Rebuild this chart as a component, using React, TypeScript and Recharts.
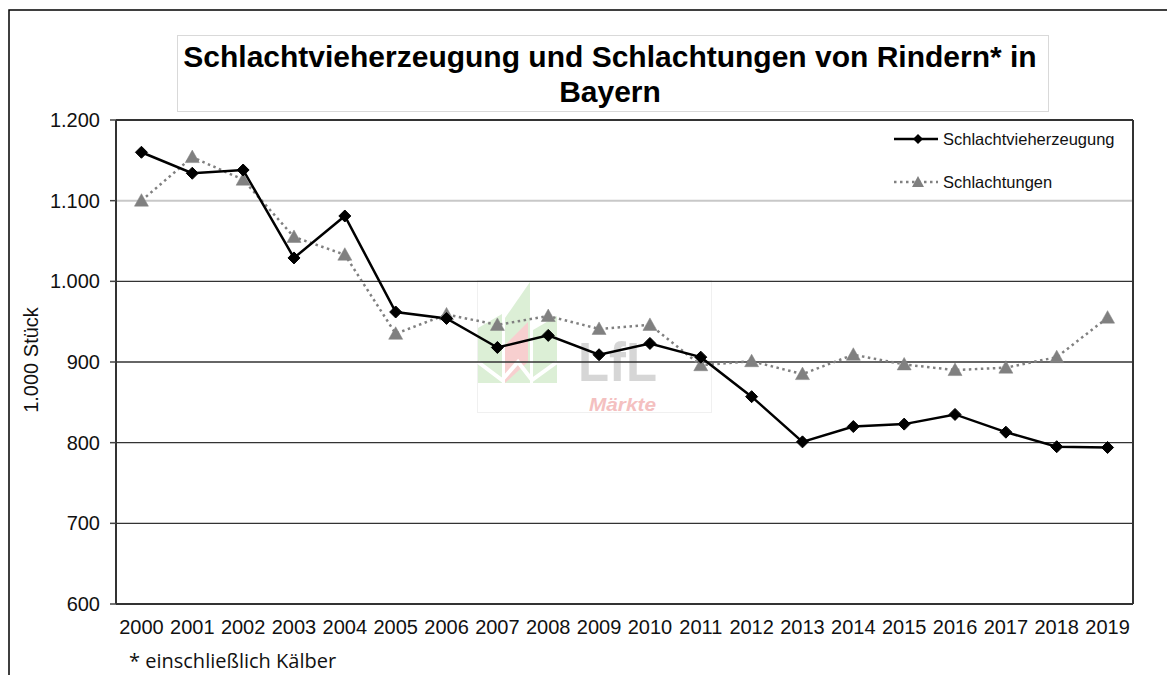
import React from 'react';
import { LineChart, Line, XAxis, YAxis, ReferenceLine, Legend } from 'recharts';

const years = ['2000', '2001', '2002', '2003', '2004', '2005', '2006', '2007', '2008', '2009', '2010', '2011', '2012', '2013', '2014', '2015', '2016', '2017', '2018', '2019'];
const schlachtvieherzeugung = [1160, 1134, 1138, 1029, 1081, 962, 954, 918, 933, 909, 923, 906, 857, 801, 820, 823, 835, 813, 795, 794];
const schlachtungen = [1100, 1154, 1126, 1055, 1033, 935, 959, 946, 957, 941, 946, 896, 901, 885, 909, 897, 890, 893, 906, 955];
const yTicks = [600, 700, 800, 900, 1000, 1100, 1200];
const gridValues = [700, 800, 900, 1000, 1100];
const seriesNames = ['Schlachtvieherzeugung', 'Schlachtungen'];
const titleLines = ['Schlachtvieherzeugung und Schlachtungen von Rindern* in', 'Bayern'];
const yAxisTitle = '1.000 Stück';
const footnote = '* einschließlich Kälber';

const data = years.map((y, i) => ({ x: i, year: y, erz: schlachtvieherzeugung[i], schl: schlachtungen[i] }));
const labelTicks = years.map((_, i) => i);
const edgeTicks = [...years.map((_, i) => i - 0.5), years.length - 0.5];

const FONT = '"Liberation Sans", Arial, sans-serif';

const fmt = (v: number) => (v >= 1000 ? `${Math.floor(v / 1000)}.${String(v % 1000).padStart(3, '0')}` : String(v));

const Diamond = (props: any) => {
  const { cx, cy, index } = props;
  if (cx == null || cy == null) return <g key={`d-${index}`} />;
  const r = 6;
  return <polygon key={`d-${index}`} points={`${cx},${cy - r} ${cx + r},${cy} ${cx},${cy + r} ${cx - r},${cy}`} fill="#000" stroke="#000" strokeWidth={1} />;
};

const Triangle = (props: any) => {
  const { cx, cy, index } = props;
  if (cx == null || cy == null) return <g key={`t-${index}`} />;
  return <polygon key={`t-${index}`} points={`${cx},${cy - 7} ${cx + 7},${cy + 5.5} ${cx - 7},${cy + 5.5}`} fill="#808080" stroke="#808080" strokeWidth={0.5} />;
};

const renderLegend = () => (
  <svg width={270} height={80} style={{ display: 'block' }}>
    <line x1={4} y1={13} x2={48} y2={13} stroke="#000" strokeWidth={2.5} />
    <polygon points="28,8 33,13 28,18 23,13" fill="#000" />
    <text x={53} y={13} dy="0.35em" fontSize={16.5} fontFamily={FONT} fill="#111">{seriesNames[0]}</text>
    <line x1={4} y1={56} x2={48} y2={56} stroke="#808080" strokeWidth={2.5} strokeDasharray="2.5 3.5" />
    <polygon points="28,50 34,61 22,61" fill="#808080" />
    <text x={53} y={56} dy="0.35em" fontSize={16.5} fontFamily={FONT} fill="#111">{seriesNames[1]}</text>
  </svg>
);

export default function App() {
  return (
    <div style={{ position: 'absolute', left: 0, top: 0, width: 1167, height: 675, background: '#fff', overflow: 'hidden' }}>
      <svg width={1167} height={675} style={{ position: 'absolute', left: 0, top: 0 }}>
        <rect x={9} y={10} width={1200} height={700} fill="none" stroke="#000" strokeWidth={1.5} />
        <rect x={177.5} y={35.5} width={871} height={76} fill="#fff" stroke="#d9d9d9" strokeWidth={1} />
        <text x={610} y={67} textAnchor="middle" fontSize={30} fontWeight="bold" fontFamily={FONT} fill="#000">{titleLines[0]}</text>
        <text x={610} y={102} textAnchor="middle" fontSize={30} fontWeight="bold" fontFamily={FONT} fill="#000">{titleLines[1]}</text>
        <text x={31} y={360} transform="rotate(-90, 31, 360)" textAnchor="middle" dy="0.35em" fontSize={20} fontFamily={FONT} fill="#111">{yAxisTitle}</text>
        <text x={129} y={668} fontSize={20} fontFamily='"Open Sans", sans-serif' fill="#111">{footnote}</text>
        <g>
          <rect x={477.5} y={280.5} width={234} height={132} fill="none" stroke="#f0f0f0" />
          <polygon points="478,328 502,314 502,383 478,383" fill="#dcefd6" />
          <polygon points="505,318 530,282 530,383 505,383" fill="#dcefd6" />
          <polygon points="505,345 528,322 528,362 505,383" fill="#f7cfcf" />
          <polygon points="533,330 557,316 557,383 533,383" fill="#dcefd6" />
          <polyline points="478,362 502,380 518,362 532,380 557,362" fill="none" stroke="#fff" strokeWidth={4} />
          <text x={578} y={381} fontSize={56} fontWeight="bold" fontFamily={FONT} fill="#d6d6d6" textLength={79} lengthAdjust="spacingAndGlyphs">LfL</text>
          <text x={589} y={411} fontSize={18} fontWeight="bold" fontStyle="italic" fontFamily={FONT} fill="#f4c0c0" textLength={67} lengthAdjust="spacingAndGlyphs">Märkte</text>
        </g>
      </svg>
      <div style={{ position: 'absolute', left: 0, top: 0 }}>
        <LineChart width={1167} height={675} data={data} margin={{ top: 120, right: 34, left: 0, bottom: 0 }}>
          <XAxis xAxisId="edges" type="number" dataKey="x" domain={[-0.5, 19.5]} ticks={edgeTicks} interval={0} tick={false} tickSize={6} tickLine={{ stroke: '#444', strokeWidth: 1.5 }} axisLine={false} height={0} allowDecimals />
          <XAxis xAxisId="main" type="number" dataKey="x" domain={[-0.5, 19.5]} ticks={labelTicks} interval={0} tickFormatter={(v: number) => years[v]} tickLine={false} tickSize={6} tickMargin={10} axisLine={{ stroke: '#333', strokeWidth: 2 }} height={71} tick={{ fontSize: 20, fontFamily: FONT, fill: '#111' }} />
          <YAxis type="number" domain={[600, 1200]} ticks={yTicks} interval={0} tickFormatter={fmt} width={116} tickSize={6} tickMargin={10} axisLine={{ stroke: '#333', strokeWidth: 2 }} tickLine={{ stroke: '#444', strokeWidth: 1.5 }} tick={{ fontSize: 20, fontFamily: FONT, fill: '#111' }} />
          {gridValues.map((v) => (
            <ReferenceLine key={v} xAxisId="main" y={v} stroke={v === 1100 ? '#c8c8c8' : '#333'} strokeWidth={v === 1100 ? 2 : 1.3} />
          ))}
          <ReferenceLine xAxisId="main" y={1200} stroke="#333" strokeWidth={2} />
          <ReferenceLine xAxisId="main" x={19.5} stroke="#333" strokeWidth={2} />
          <Line xAxisId="main" type="linear" dataKey="schl" name={seriesNames[1]} stroke="#808080" strokeWidth={2.5} strokeDasharray="2.5 3.5" dot={Triangle} isAnimationActive={false} />
          <Line xAxisId="main" type="linear" dataKey="erz" name={seriesNames[0]} stroke="#000" strokeWidth={2.5} dot={Diamond} isAnimationActive={false} />
          <Legend layout="vertical" align="center" verticalAlign="middle" content={renderLegend} wrapperStyle={{ left: 890, top: 126, width: 270, height: 80 }} />
        </LineChart>
      </div>
    </div>
  );
}
